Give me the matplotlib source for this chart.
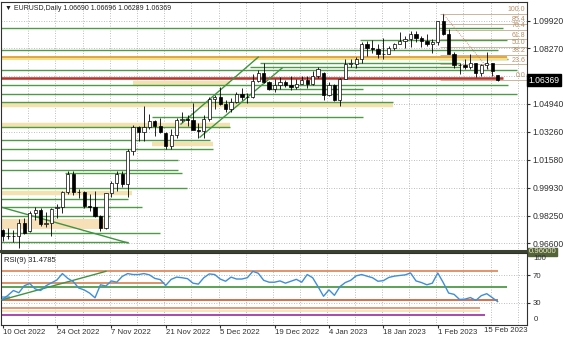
import matplotlib
matplotlib.use("Agg")
import matplotlib.pyplot as plt
import matplotlib.transforms as mtransforms

plt.rcParams['font.family'] = ['Liberation Sans', 'DejaVu Sans']

# EURUSD daily bars, 10 Oct 2022 .. 16 Feb 2023
opens = [0.9740, 0.9700, 0.9705, 0.9703, 0.9780, 0.9730, 0.9840, 0.9860, 0.9775, 0.9780,
         0.9870, 0.9875, 0.9967, 1.0076, 0.9965, 0.9965, 0.9880, 0.9878, 0.9820, 0.9750,
         0.9960, 1.0020, 1.0075, 1.0012, 1.0209, 1.0355, 1.0325, 1.0353, 1.0390, 1.0363,
         1.0320, 1.0242, 1.0305, 1.0395, 1.0405, 1.0400, 1.0340, 1.0330, 1.0405, 1.0525,
         1.0535, 1.0495, 1.0465, 1.0505, 1.0555, 1.0535, 1.0537, 1.0630, 1.0680, 1.0627,
         1.0585, 1.0605, 1.0625, 1.0605, 1.0595, 1.0615, 1.0638, 1.0610, 1.0660, 1.0680,
         1.0545, 1.0605, 1.0520, 1.0645, 1.0735, 1.0735, 1.0760, 1.0855, 1.0830, 1.0820,
         1.0790, 1.0795, 1.0830, 1.0855, 1.0870, 1.0885, 1.0915, 1.0890, 1.0870, 1.0850,
         1.0865, 1.0990, 1.0910, 1.0795, 1.0725, 1.0728, 1.0713, 1.0738, 1.0680, 1.0725,
         1.0740, 1.06690]
highs = [0.9746, 0.9752, 0.9740, 0.9807, 0.9808, 0.9850, 0.9876, 0.9872, 0.9848, 0.9871,
         0.9895, 0.9975, 1.0094, 1.0090, 0.9986, 0.9975, 0.9954, 0.9975, 0.9830, 0.9963,
         1.0032, 1.0094, 1.0095, 1.0224, 1.0365, 1.0360, 1.0481, 1.0434, 1.0395, 1.0412,
         1.0323, 1.0345, 1.0407, 1.0448, 1.0425, 1.0497, 1.0380, 1.0430, 1.0535, 1.0545,
         1.0595, 1.0520, 1.0528, 1.0565, 1.0590, 1.0560, 1.0673, 1.0695, 1.0736, 1.0630,
         1.0640, 1.0655, 1.0635, 1.0658, 1.0640, 1.0660, 1.0660, 1.0690, 1.0715, 1.0685,
         1.0625, 1.0615, 1.0650, 1.0760, 1.0760, 1.0775, 1.0865, 1.0870, 1.0875, 1.0855,
         1.0888, 1.0840, 1.0860, 1.0925, 1.0900, 1.0930, 1.0930, 1.0900, 1.0915, 1.0880,
         1.0990, 1.1033, 1.0945, 1.0805, 1.0740, 1.0760, 1.0790, 1.0740, 1.0730, 1.0805,
         1.0740, 1.06696]
lows = [0.9670, 0.9686, 0.9667, 0.9632, 0.9713, 0.9725, 0.9800, 0.9765, 0.9758, 0.9705,
        0.9808, 0.9840, 0.9955, 0.9950, 0.9928, 0.9870, 0.9850, 0.9818, 0.9730, 0.9745,
        0.9935, 0.9975, 0.9995, 0.9938, 1.0185, 1.0272, 1.0271, 1.0345, 1.0301, 1.0320,
        1.0222, 1.0225, 1.0290, 1.0385, 1.0360, 1.0342, 1.0290, 1.0290, 1.0390, 1.0465,
        1.0490, 1.0445, 1.0445, 1.0500, 1.0520, 1.0500, 1.0530, 1.0622, 1.0620, 1.0580,
        1.0565, 1.0585, 1.0595, 1.0575, 1.0585, 1.0610, 1.0590, 1.0605, 1.0650, 1.0520,
        1.0540, 1.0510, 1.0483, 1.0640, 1.0715, 1.0710, 1.0740, 1.0780, 1.0800, 1.0770,
        1.0765, 1.0790, 1.0815, 1.0850, 1.0830, 1.0835, 1.0865, 1.0835, 1.0840, 1.0800,
        1.0845, 1.0905, 1.0795, 1.0710, 1.0670, 1.0703, 1.0705, 1.0655, 1.0660, 1.0700,
        1.0660, 1.06289]
closes = [0.9700, 0.9705, 0.9703, 0.9780, 0.9722, 0.9840, 0.9860, 0.9775, 0.9780, 0.9862,
          0.9875, 0.9967, 1.0076, 0.9965, 0.9966, 0.9880, 0.9878, 0.9820, 0.9750, 0.9960,
          1.0020, 1.0075, 1.0012, 1.0209, 1.0355, 1.0325, 1.0353, 1.0390, 1.0363, 1.0325,
          1.0242, 1.0305, 1.0395, 1.0405, 1.0400, 1.0340, 1.0330, 1.0405, 1.0525, 1.0535,
          1.0495, 1.0465, 1.0505, 1.0555, 1.0535, 1.0537, 1.0630, 1.0680, 1.0627, 1.0585,
          1.0605, 1.0625, 1.0605, 1.0595, 1.0615, 1.0638, 1.0610, 1.0660, 1.0705, 1.0545,
          1.0605, 1.0520, 1.0645, 1.0735, 1.0735, 1.0760, 1.0855, 1.0830, 1.0820, 1.0790,
          1.0795, 1.0830, 1.0855, 1.0870, 1.0885, 1.0915, 1.0890, 1.0870, 1.0850, 1.0865,
          1.0990, 1.0910, 1.0795, 1.0725, 1.0728, 1.0713, 1.0738, 1.0680, 1.0725, 1.0740,
          1.0690, 1.06369]

# RSI(9)
rsi = [34.6, 40.7, 47.8, 44.5, 54.8, 58.1, 50.1, 47.8, 54.8, 59.1,
       63.3, 72.7, 65.6, 60.9, 51.5, 48.7, 44.0, 37.0, 56.2, 54.4,
       61.9, 60.0, 68.5, 72.7, 71.3, 71.3, 72.7, 70.8, 65.6, 63.8,
       55.3, 64.2, 67.5, 66.6, 65.2, 58.6, 57.2, 66.6, 72.2, 71.3,
       64.7, 61.4, 67.5, 64.7, 64.7, 66.6, 76.0, 73.2, 62.8, 60.0,
       60.0, 61.9, 58.6, 61.4, 64.2, 60.0, 71.3, 66.6, 53.4, 39.3,
       48.7, 40.7, 53.4, 59.5, 62.8, 69.4, 71.3, 68.9, 66.6, 61.4,
       62.3, 67.0, 68.9, 69.9, 70.8, 73.6, 61.9, 59.5, 56.2, 58.6,
       73.6, 59.5, 44.0, 42.1, 34.6, 35.1, 37.4, 33.2, 40.2, 43.1,
       37.4, 31.4785]

date_ticks = [0, 10, 20, 30, 40, 50, 60, 70, 80]
date_labels = ['10 Oct 2022', '24 Oct 2022', '7 Nov 2022', '21 Nov 2022', '5 Dec 2022',
               '19 Dec 2022', '4 Jan 2023', '18 Jan 2023', '1 Feb 2023']
last_label = '15 Feb 2023'
price_ticks = [1.0992, 1.0827, 1.0659, 1.0494, 1.0326, 1.0158, 0.9993, 0.9825, 0.9660]
hidden_tick = 1.0659  # sits under the last-price box

# horizontal support / resistance lines: price, first bar, last bar
green_levels = [1.0950, 1.0876, 1.0817, 1.0761, 1.0737, 1.0713, 1.0697, 1.0607, 1.0581,
                1.0551, 1.0505, 1.0415, 1.0358, 1.0280, 1.0226, 1.0155, 1.0098, 1.0083,
                0.9991, 0.9924, 0.9878, 0.9822, 0.9720, 0.9666]
green_start = [-1, 65.7, -1, 80, 47.3, 45.5, -1, -1, 48.6,
               -1, -1, 27.5, -1, -1, -1, -1, -1, 11.5,
               -1, -1, -1, -1, -1, -1]
green_end = [92, 92.7, 91, 92.9, 84.1, 84.1, 94.6, 92.9, 66.3,
             94.6, 71.8, 66.3, 41.8, 38.1, 38.7, 32.3, 32.3, 33,
             33.9, 23.1, 25.6, 19.8, 29, 23.1]
band_levels = [1.0617, 1.0487, 1.0370, 1.0256, 0.9961]
band_start = [24, -1, -1, 27.5, -1]
band_end = [41.8, 71.8, 41.8, 38.7, 23.8]
box_low, box_high, box_end = 0.9746, 0.9806, 18.8
red_level, orange_level = 1.0646, 1.0777

# trend lines / channel (bar, price pairs)
trend_x = [[-0.5, 23.1], [32.8, 47.0], [36.3, 51.4]]
trend_y = [[0.9878, 0.9661], [1.0373, 1.0774], [1.0295, 1.0709]]

fib_labels = ['0.0', '23.6', '38.2', '50.0', '61.8', '76.4', '85.4', '100.0']
fib_prices = [1.0636, 1.0730, 1.0788, 1.0835, 1.0881, 1.0939, 1.0975, 1.1033]

rsi_levels = [76.0, 58.1, 52.9, 33.2, 22.4, 17.2, 12.0]
rsi_level_end = [91, 29.7, 92.8, 91, 87.8, 87.8, 88.7]
rsi_level_colors = ['#e08a5c', '#d98a5a', '#4f9a4a', '#d4623a', '#e0906a', '#f3e3b8', '#a23aa8']

W, H = 564, 338
fig = plt.figure(figsize=(W / 100, H / 100), dpi=100)
ax = fig.add_axes([1 / W, (H - 251) / H, 526 / W, 249 / H])
rax = fig.add_axes([1 / W, (H - 325) / H, 526 / W, 72 / H])

n = len(closes)
xs = list(range(n))
xlim = (-0.28, 96.4)

grid_kw = dict(color='#a8a8a8', lw=0.6, linestyle=(0, (1, 2)), zorder=0)
grid_x = [4.7 + 5 * k for k in range(19)]
for g in grid_x:
    ax.axvline(g, **grid_kw)
    rax.axvline(g, **grid_kw)
for p in price_ticks:
    ax.axhline(p, **grid_kw)
for r in (70, 30):
    rax.axhline(r, **grid_kw)

# zones and levels
for lvl, s, e in zip(band_levels, band_start, band_end):
    ax.hlines(lvl, s, e, color='#f3e2b0', lw=3.2, zorder=1)
ax.fill_between([-1, box_end], box_low, box_high, color='#f7dfb8', lw=0, zorder=1)
for lvl, s, e in zip(green_levels, green_start, green_end):
    ax.hlines(lvl, s, e, color='#4e9a46', lw=1.0, zorder=2)
ax.hlines(orange_level - 0.0006, -1, 92.7, color='#f2e08a', lw=2.2, zorder=2)
ax.hlines(orange_level, -1, 92.7, color='#e0a035', lw=1.3, zorder=2)
ax.hlines(red_level, -1, 92, color='#b8332a', lw=1.8, zorder=2)
for tx, ty in zip(trend_x, trend_y):
    ax.plot(tx, ty, color='#3f9440', lw=1.0, zorder=2)

# fibonacci retracement
for lab, p in zip(fib_labels, fib_prices):
    ax.hlines(p, 80.5, xlim[1], color='#c9b59a', lw=0.7, zorder=2)
    ax.text(xlim[1] - 0.3, p + 0.0004, lab, color='#b89068', fontsize=5,
            ha='right', va='bottom', zorder=6)
ax.plot([81, 91], [fib_prices[-1], fib_prices[0]], color='#c0705a', lw=0.6,
        linestyle=(0, (1, 1.5)), zorder=2)

# candles
for i in xs:
    o, h, l, c = opens[i], highs[i], lows[i], closes[i]
    ax.vlines(i, l, h, color='black', lw=0.6, zorder=4)
    face = 'white' if c >= o else 'black'
    ax.bar(i, max(abs(c - o), 0.00008), bottom=min(o, c), width=0.6,
           color=face, edgecolor='black', lw=0.5, zorder=5)

ax.set_xlim(*xlim)
ax.set_ylim(0.9613, 1.1104)
ax.set_xticks([])
ax.yaxis.tick_right()
ax.set_yticks(price_ticks)
ax.set_yticklabels(['' if p == hidden_tick else '%.5f' % p for p in price_ticks])
ax.tick_params(axis='y', labelsize=6.2, length=2.5, pad=1.5, colors='#303030')
for s in ax.spines.values():
    s.set_color('#303030')
    s.set_linewidth(0.8)
ax.spines['bottom'].set_color('#3a4230')
ax.spines['bottom'].set_linewidth(2.2)

trans = mtransforms.blended_transform_factory(ax.transAxes, ax.transData)
ax.text(1.003, closes[-1], '1.06369', transform=trans, fontsize=6.2, color='white',
        va='center', ha='left', zorder=10, clip_on=False,
        bbox=dict(boxstyle='square,pad=0.2', fc='black', ec='black'))
ax.text(1.003, -0.004, '0.96000', transform=ax.transAxes, fontsize=5.6, color='#e8e8c8',
        va='center', ha='left', zorder=10, clip_on=False,
        bbox=dict(boxstyle='square,pad=0.12', fc='#55633a', ec='#55633a'))
ax.text(0.008, 0.975, '\u25bc EURUSD,Daily %.5f %.5f %.5f %.5f'
        % (opens[-1], highs[-1], lows[-1], closes[-1]),
        transform=ax.transAxes, fontsize=5.0, color='#202020', va='center', ha='left')

# RSI window
rax.plot([-0.5, 1], [38.4, 38.4], color='#7ab4e8', lw=2.0, zorder=2)
for lvl, e, col in zip(rsi_levels, rsi_level_end, rsi_level_colors):
    rax.hlines(lvl, -1, e, color=col, lw=1.3, zorder=2)
rax.plot([-0.1, 19], [34.0, 76.0], color='#3f9440', lw=1.0, zorder=3)
rax.plot(xs, rsi, color='#3d8fd8', lw=1.0, zorder=4)
rax.set_xlim(*xlim)
rax.set_ylim(-3, 103)
rax.yaxis.tick_right()
rax.set_yticks([70, 30])
rax.set_yticklabels(['70', '30'])
rax.tick_params(axis='y', labelsize=5.6, length=2.5, pad=1.5, colors='#303030')
rax.text(1.012, 0.917, '100', transform=rax.transAxes, fontsize=5.6, color='#303030',
         va='center', ha='left')
rax.text(1.012, 0.083, '0', transform=rax.transAxes, fontsize=5.6, color='#303030',
         va='center', ha='left')
rax.set_xticks(date_ticks)
rax.set_xticklabels(date_labels, ha='left')
rax.tick_params(axis='x', labelsize=5.6, length=2, pad=1, colors='#303030')
rax.text(1.0, -0.03, last_label, transform=rax.transAxes, fontsize=5.6, color='#303030',
         ha='right', va='top')
for s in rax.spines.values():
    s.set_color('#303030')
    s.set_linewidth(0.8)
rax.text(0.006, 0.9, 'RSI(9) 31.4785', transform=rax.transAxes, fontsize=5.5,
         color='#202020', va='center', ha='left')

fig.savefig('out.png', dpi=100)
